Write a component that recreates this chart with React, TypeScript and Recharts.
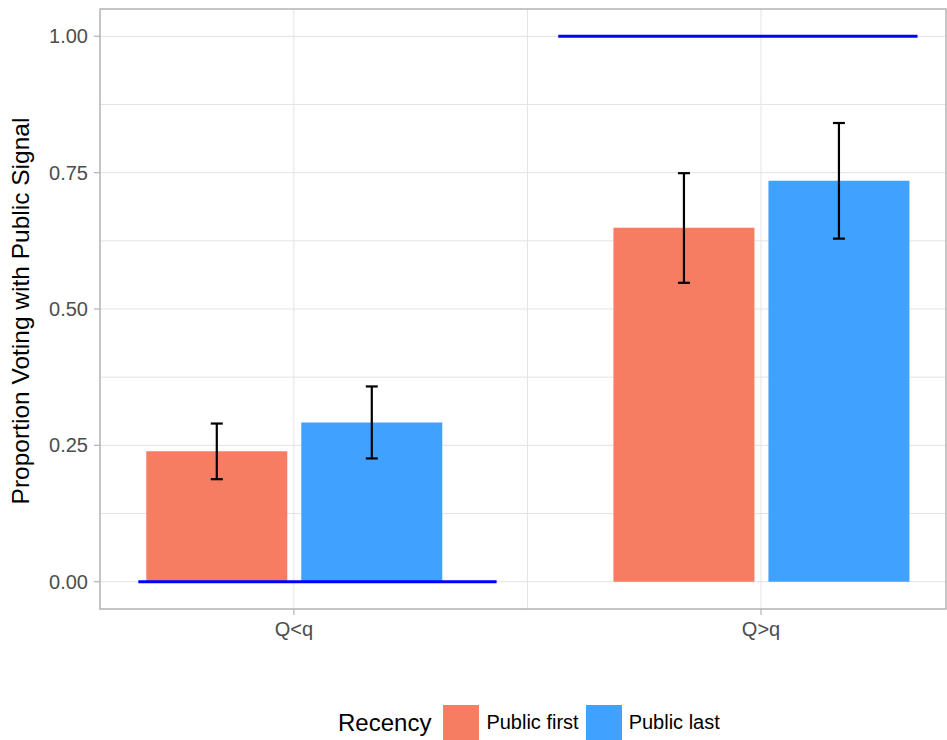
import {
  ComposedChart,
  Bar,
  XAxis,
  YAxis,
  CartesianGrid,
  ErrorBar,
  ReferenceLine,
  ReferenceArea,
} from "recharts";

const categories = ["Q<q", "Q>q"];
const xPositions = [1, 2];

const publicFirst = [0.239, 0.649];
const publicFirstLow = [0.188, 0.548];
const publicFirstHigh = [0.29, 0.749];

const publicLast = [0.292, 0.735];
const publicLastLow = [0.226, 0.629];
const publicLastHigh = [0.358, 0.841];

const yTicks = [0, 0.25, 0.5, 0.75, 1];
const yGrid = [0, 0.125, 0.25, 0.375, 0.5, 0.625, 0.75, 0.875, 1];
const xGrid = [1, 1.5, 2];

// blue reference segments (x from, x to, y)
const refSegments = [
  { x1: 0.667, x2: 1.434, y: 0 },
  { x1: 1.566, x2: 2.335, y: 1 },
];

const series = [
  { key: "first", name: "Public first", color: "#F67C62" },
  { key: "last", name: "Public last", color: "#40A1FF" },
];

const xDomain = [0.585, 2.396];
const yDomain = [-0.05, 1.05];

const data = categories.map((c, i) => ({
  x: xPositions[i],
  cat: c,
  first: publicFirst[i],
  firstErr: [publicFirst[i] - publicFirstLow[i], publicFirstHigh[i] - publicFirst[i]],
  last: publicLast[i],
  lastErr: [publicLast[i] - publicLastLow[i], publicLastHigh[i] - publicLast[i]],
}));

const font = "'Liberation Sans', Arial, sans-serif";

export default function App() {
  return (
    <div style={{ position: "absolute", left: 0, top: 0, width: 947, height: 740, background: "#fff", fontFamily: font }}>
      <ComposedChart
        width={947}
        height={740}
        data={data}
        margin={{ top: 9, right: 1, left: 40, bottom: 101 }}
        barGap={14}
      >
        <CartesianGrid
          stroke="#e3e3e3"
          strokeWidth={1}
          horizontalValues={yGrid}
          verticalValues={xGrid}
        />
        <XAxis
          dataKey="x"
          type="number"
          domain={xDomain}
          ticks={xPositions}
          interval={0}
          allowDataOverflow
          height={30}
          axisLine={false}
          tickLine={{ stroke: "#b3b3b3", strokeWidth: 1.2 }}
          tickSize={6}
          tickMargin={7}
          tick={{ fontSize: 20, fill: "#4d4d4d", fontFamily: font }}
          tickFormatter={(v) => categories[xPositions.indexOf(v)] ?? ""}
        />
        <YAxis
          type="number"
          domain={yDomain}
          ticks={yTicks}
          allowDataOverflow
          width={60}
          axisLine={false}
          tickLine={{ stroke: "#b3b3b3", strokeWidth: 1.2 }}
          tickSize={6}
          tickMargin={6}
          tick={{ fontSize: 20, fill: "#4d4d4d", fontFamily: font }}
          tickFormatter={(v) => Number(v).toFixed(2)}
        />
        {series.map((s) => (
          <Bar
            key={s.key}
            dataKey={s.key}
            name={s.name}
            fill={s.color}
            barSize={141}
            isAnimationActive={false}
          >
            <ErrorBar
              dataKey={`${s.key}Err`}
              direction="y"
              width={6}
              stroke="#000"
              strokeWidth={2.2}
              isAnimationActive={false}
            />
          </Bar>
        ))}
        {refSegments.map((r, i) => (
          <ReferenceLine
            key={i}
            segment={[
              { x: r.x1, y: r.y },
              { x: r.x2, y: r.y },
            ]}
            stroke="#0000FF"
            strokeWidth={3}
            ifOverflow="visible"
          />
        ))}
        <ReferenceArea
          x1={xDomain[0]}
          x2={xDomain[1]}
          y1={yDomain[0]}
          y2={yDomain[1]}
          fill="none"
          fillOpacity={0}
          stroke="#b3b3b3"
          strokeWidth={1.5}
          ifOverflow="visible"
        />
      </ComposedChart>
      <div
        style={{
          position: "absolute",
          left: 21,
          top: 311,
          transform: "translate(-50%, -50%) rotate(-90deg)",
          whiteSpace: "nowrap",
          fontSize: 24.5,
          color: "#000",
          lineHeight: 1,
        }}
      >
        Proportion Voting with Public Signal
      </div>
      <div
        style={{
          position: "absolute",
          left: 338,
          top: 705,
          height: 35,
          display: "flex",
          alignItems: "center",
          whiteSpace: "nowrap",
        }}
      >
        <span style={{ fontSize: 24, marginRight: 12, color: "#000" }}>Recency</span>
        {series.map((s) => (
          <span key={s.key} style={{ display: "flex", alignItems: "center" }}>
            <span style={{ width: 36, height: 35, background: s.color, marginRight: 7 }} />
            <span style={{ fontSize: 20, marginRight: 7, color: "#000" }}>{s.name}</span>
          </span>
        ))}
      </div>
    </div>
  );
}
